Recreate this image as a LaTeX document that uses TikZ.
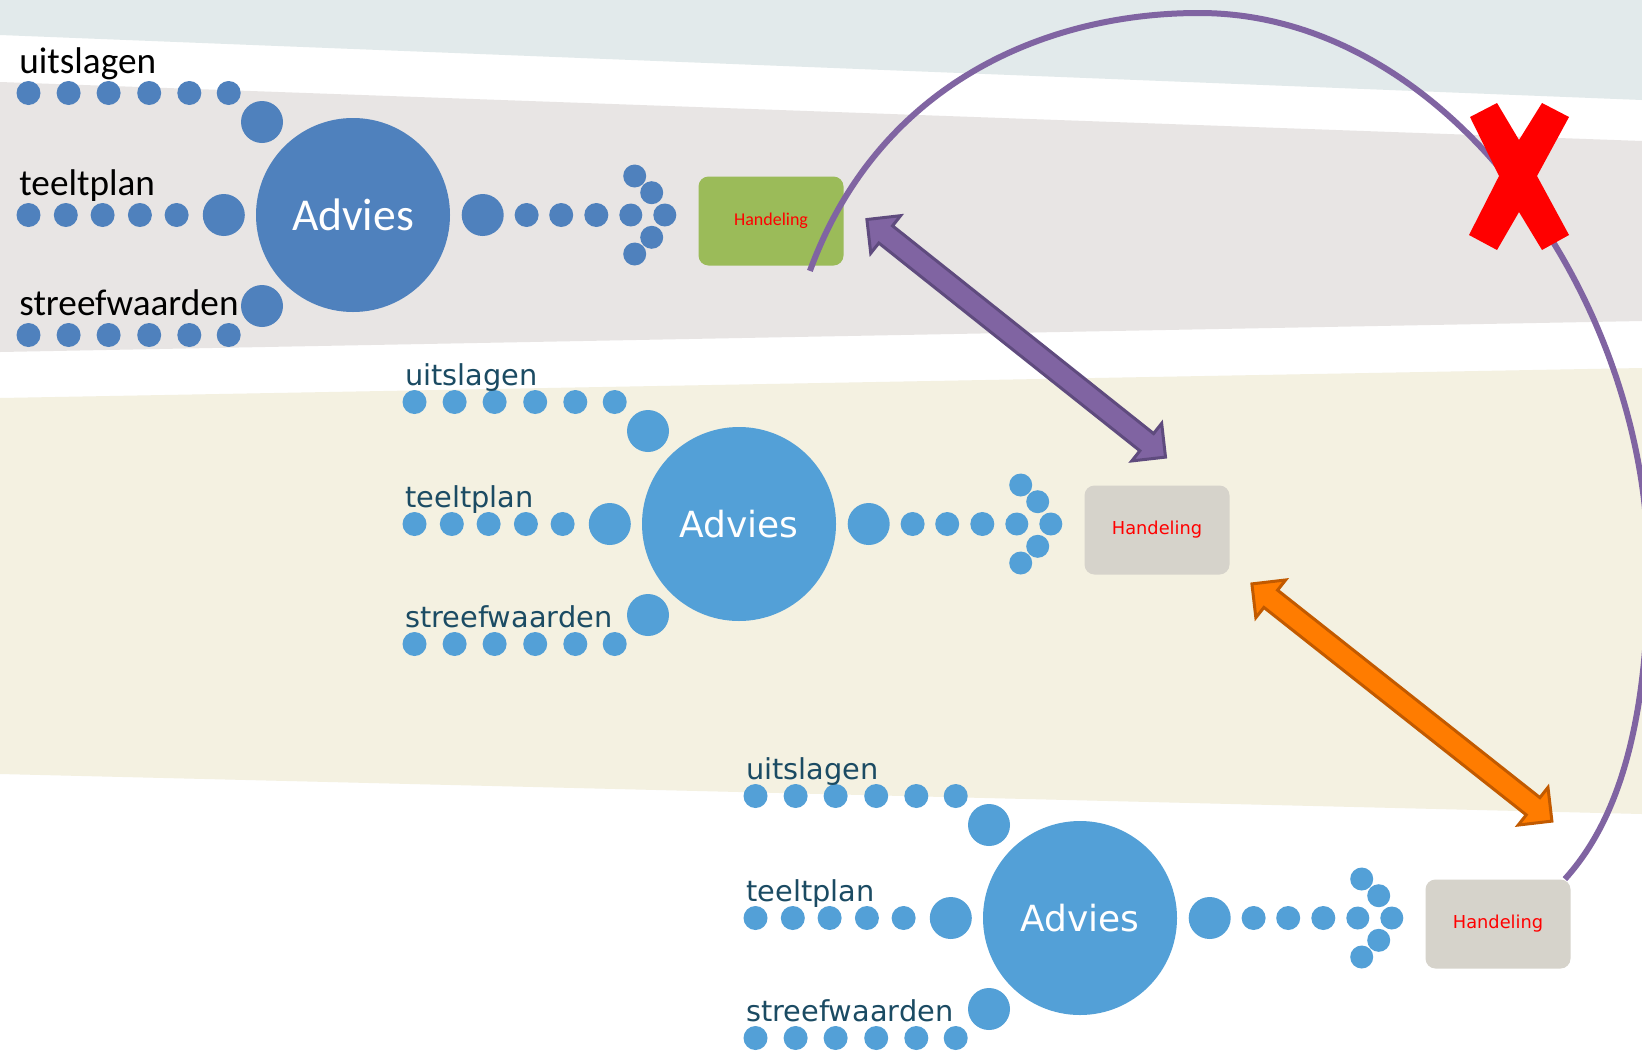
\documentclass[tikz,border=0pt]{standalone}
\usepackage{fontspec}
\usetikzlibrary{calc}
\newfontfamily\calibri{Carlito}
\newfontfamily\verdana{DejaVu Sans}
\definecolor{blueA}{HTML}{4F81BD}
\definecolor{blueB}{HTML}{53A0D7}
\definecolor{tealtxt}{HTML}{1B4B63}
\definecolor{greenbox}{HTML}{9BBB59}
\definecolor{graybox}{HTML}{D6D3CB}
\definecolor{skyband}{HTML}{E2EAEB}
\definecolor{grayband}{HTML}{E8E5E4}
\definecolor{beigeband}{HTML}{F4F1E1}
\definecolor{arcpurple}{HTML}{8064A2}
\definecolor{arcpurpledark}{HTML}{5F4B7E}
\definecolor{arroworange}{HTML}{FF7C00}
\definecolor{arroworangedark}{HTML}{C25A00}
\newcommand{\dblarrow}[2]{(#1) -- ($(#1)!12pt!(#2)!12pt!90:(#2)$) -- ($(#1)!12pt!(#2)!5.5pt!90:(#2)$)
  -- ($(#2)!12pt!(#1)!5.5pt!-90:(#1)$) -- ($(#2)!12pt!(#1)!12pt!-90:(#1)$) -- (#2)
  -- ($(#2)!12pt!(#1)!12pt!90:(#1)$) -- ($(#2)!12pt!(#1)!5.5pt!90:(#1)$)
  -- ($(#1)!12pt!(#2)!5.5pt!-90:(#2)$) -- ($(#1)!12pt!(#2)!12pt!-90:(#2)$) -- cycle}
\tikzset{
  lab/.style={anchor=base west, inner sep=0pt},
  adviesnode/.style={circle, minimum size=97pt, inner sep=0pt, text=white},
  handbox/.style={rectangle, rounded corners=5pt, minimum width=72.5pt, minimum height=44.5pt, text=red},
  arcline/.style={draw=arcpurple, line width=3pt},
  purplearrow/.style={fill=arcpurple, draw=arcpurpledark, line width=1.5pt},
  orangearrow/.style={fill=arroworange, draw=arroworangedark, line width=1.5pt},
  crossmark/.style={fill=red}
}
\begin{document}
\begin{tikzpicture}[x=0.5pt, y=-0.5pt]
    \useasboundingbox (0,0) rectangle (1642,1050);
    % background bands
    \fill[white] (0,0) rectangle (1642,1050);
    \fill[skyband] (0,0) -- (1642,0) -- (1642,100) -- (0,35) -- cycle;
    \fill[grayband] (0,82) -- (1642,141) -- (1642,321) -- (0,352) -- cycle;
    \fill[beigeband] (0,398) -- (1642,368) -- (1642,814) -- (0,774) -- cycle;
    % three advies groups
    \foreach \g/\dx/\dy/\bs/\dotc/\txtc/\boxc/\ff/\ls/\as/\hs in {
      1/0/0/0/blueA/black/greenbox/\calibri/18.6/22.8/9,
      2/386/309/3/blueB/tealtxt/graybox/\verdana/14.4/18/8.9,
      3/727/703/3/blueB/tealtxt/graybox/\verdana/14.4/18/8.9}{
    \begin{scope}[shift={(\dx,\dy)}]
    \foreach \x in {28.5,68.6,108.6,149.2,189.3,228.7}{
      \fill[fill=\dotc] (\x,93) circle[radius=6pt];
      \fill[fill=\dotc] (\x,335) circle[radius=6pt];}
    \foreach \x in {28.5,65.8,102.6,139.9,176.6}
      \fill[fill=\dotc] (\x,215) circle[radius=6pt];
    \foreach \x/\y in {262/122,223.8/215,262/306,482.7/215}
      \fill[fill=\dotc] (\x,\y) circle[radius=10.5pt];
    \foreach \x in {526.6,561.2,596.3}
      \fill[fill=\dotc] (\x,215) circle[radius=6pt];
    \foreach \x/\y in {630.8/215,664.8/215,651.7/192.7,651.7/237.3,634.7/176,634.7/254}
      \fill[fill=\dotc] (\x,\y) circle[radius=5.75pt];
    \node[lab, text=\txtc, font=\ff\fontsize{\ls}{\ls}\selectfont] (uit\g) at (19,73+\bs) {uitslagen};
    \node[lab, text=\txtc, font=\ff\fontsize{\ls}{\ls}\selectfont] (teelt\g) at (19,195+\bs) {teeltplan};
    \node[lab, text=\txtc, font=\ff\fontsize{\ls}{\ls}\selectfont] (streef\g) at (19,315+\bs) {streefwaarden};
    \node[adviesnode, fill=\dotc, font=\ff\fontsize{\as}{\as}\selectfont] (adv\g) at (353,215) {Advies};
    \node[handbox, fill=\boxc, font=\ff\fontsize{\hs}{\hs}\selectfont] (hand\g) at (771,221) {Handeling};
    \end{scope}}
    % feedback arc with cross
    \coordinate (arcs) at ($(hand1.south east)+(-34,5)$);
    \coordinate (arce) at ($(hand3.north east)+(-6,0)$);
    \draw[arcline] (arcs) .. controls (880,80) and (1050,13) .. (1199,13)
      .. controls (1450,13) and (1645,300) .. (1648,560)
      .. controls (1650,760) and (1600,840) .. (arce);
    \fill[crossmark] (1470,117) -- (1497,103) -- (1519,140) -- (1542,103) -- (1569,117) -- (1537,176)
      -- (1569,235) -- (1542,250) -- (1519,212) -- (1497,250) -- (1469,235) -- (1499,176) -- cycle;
    % double arrows between the boxes
    \coordinate (pa1) at ($(hand1.east)+(23,-1.5)$);
    \coordinate (pb1) at ($(hand2.north)+(8.5,-28)$);
    \coordinate (pa2) at ($(hand2.south east)+(22,9)$);
    \coordinate (pb2) at ($(hand3.north east)+(-19,-58)$);
    \draw[purplearrow] \dblarrow{pa1}{pb1};
    \draw[orangearrow] \dblarrow{pa2}{pb2};
\end{tikzpicture}
\end{document}
